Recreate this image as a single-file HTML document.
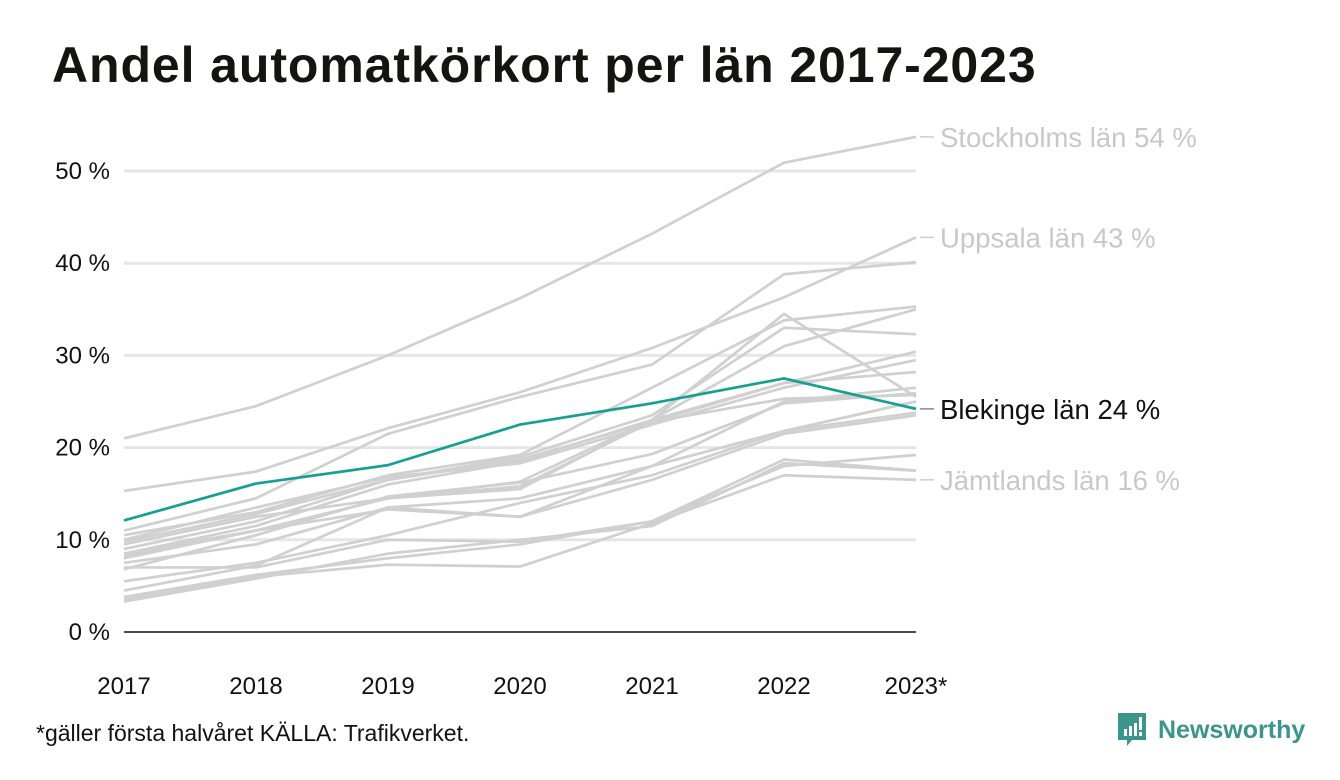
<!DOCTYPE html>
<html><head><meta charset="utf-8"><style>
body{margin:0;background:#fff;font-family:"Liberation Sans",sans-serif;}
#wrap{position:relative;width:1340px;height:780px;overflow:hidden;}
h1{position:absolute;left:52px;top:36px;margin:0;font-size:50px;font-weight:bold;color:#151510;letter-spacing:0.9px;}
.foot{position:absolute;left:36px;top:720px;font-size:23px;color:#111;}
.logo{position:absolute;left:1118px;top:713px;display:flex;align-items:center;color:#3a968c;font-size:25px;font-weight:bold;}
</style></head><body>
<div id="wrap">
<h1>Andel automatkörkort per län 2017-2023</h1>
<svg id="chart" width="1340" height="780" style="position:absolute;left:0;top:0"></svg>
<div class="foot">*gäller första halvåret KÄLLA: Trafikverket.</div>
<div class="logo">
<svg width="30" height="34" viewBox="0 0 30 34" style="margin-right:10px"><path d="M0 0H28V27H14L9 33V27H0Z" fill="#3a968c"/><rect x="6" y="16" width="3" height="7" fill="#fff"/><rect x="11" y="13" width="3" height="10" fill="#fff"/><rect x="16" y="10" width="3" height="13" fill="#fff"/><rect x="21" y="4" width="3" height="13" fill="#fff"/><rect x="21" y="19" width="3" height="4" fill="#fff"/></svg>Newsworthy</div>
</div>
<script>
const years=["2017","2018","2019","2020","2021","2022","2023*"];
const yTicks=[0,10,20,30,40,50];
const stockholm=[21,24.5,30,36.2,43.2,50.9,53.7];
const uppsala=[15.3,17.4,22.1,26,30.8,36.3,42.8];
const blekinge=[12.1,16.1,18.1,22.5,24.8,27.5,24.2];
const jamtland=[3.5,6,7.3,7.1,11.8,17,16.5];
const others=[
[11,14.5,21.5,25.5,29,38.8,40.1],
[10.5,13,17,19.2,26.5,33.8,35.3],
[9.8,12.8,16.5,19,23.5,33,32.3],
[8.5,11.5,16,18.5,23,34.5,25.5],
[8,11,14.5,16.3,23,31,35],
[9,12,16.5,18.7,22.8,27,30.4],
[10,13.5,16.8,18.3,22.5,26.5,29.5],
[8.5,11,14.5,15.5,23,27,28.2],
[9.5,12.5,14.5,15.8,22.8,25.3,25.7],
[7.5,9.5,13.5,14.5,18,25,26.5],
[6.8,10.5,14.7,16.2,19.3,24.8,25.9],
[8.2,11,13.3,12.5,18,21.8,23.8],
[5.5,7.5,10.5,14,17,21.8,25],
[4.5,7.2,13.5,12.5,16.5,21.5,23.5],
[7,7,10,9.8,12,18.7,17.5],
[3.8,6.2,8,9.5,12,18,19.2],
[3.3,5.8,8.5,10,11.5,18.3,17.5]
];
const labels=[["Stockholms län 54 %",stockholm,"#c8c8c8"],["Uppsala län 43 %",uppsala,"#c8c8c8"],["Blekinge län 24 %",blekinge,"#111"],["Jämtlands län 16 %",jamtland,"#c8c8c8"]];
const NS="http://www.w3.org/2000/svg";
const svg=document.getElementById('chart');
const x=i=>124+i*132;
const y=v=>632-v*9.22;
function el(t,a){const e=document.createElementNS(NS,t);for(const k in a)e.setAttribute(k,a[k]);svg.appendChild(e);return e;}
yTicks.forEach(t=>{
 const g=el('line',{x1:124,x2:916,y1:y(t),y2:y(t),stroke:t===0?'#111':'#e6e6ea','stroke-width':t===0?1.5:3});
 
 
 const tx=el('text',{x:110,y:y(t)+8,'text-anchor':'end','font-size':24,fill:'#111'});
 tx.textContent=t+' %';
 
 
});
years.forEach((yr,i)=>{
 const tx=el('text',{x:x(i),y:694,'text-anchor':'middle','font-size':24,fill:'#111'});
 tx.textContent=yr;
 
 
});
function line(d,c,w,name){
 const p=el('polyline',{points:d.map((v,i)=>x(i)+','+y(v)).join(' '),fill:'none',stroke:c,'stroke-width':w,'stroke-linejoin':'round'});
 
 
}
others.forEach((d,i)=>line(d,'#d0d0d0',2.7,'county-line'));
line(stockholm,'#d0d0d0',2.7,'stockholm-line');
line(uppsala,'#d0d0d0',2.7,'uppsala-line');
line(jamtland,'#d0d0d0',2.7,'jamtland-line');
line(blekinge,'#14a095',2.7,'blekinge-line');
labels.forEach(([t,d,c])=>{
 const v=d[d.length-1];
 const tk=el('line',{x1:920,x2:934,y1:y(v),y2:y(v),stroke:c==='#111'?'#888':'#ccc','stroke-width':1.5});
 
 
 const tx=el('text',{x:940,y:y(v)+10,'font-size':27.5,fill:c});
 tx.textContent=t;
 
 
});
</script>
</body></html>
